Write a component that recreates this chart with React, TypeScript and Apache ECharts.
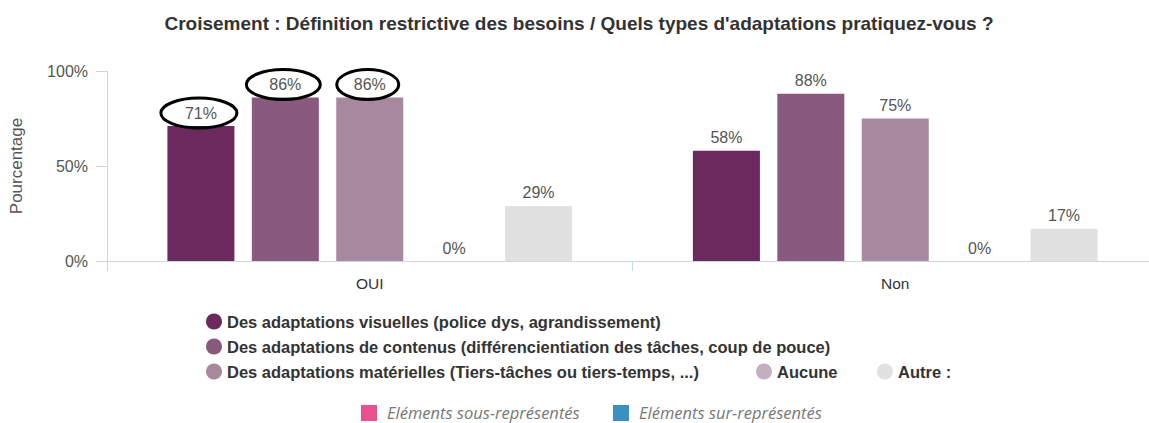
import React, { useEffect, useRef } from 'react';
import * as echarts from 'echarts';

const titleText = "Croisement : Définition restrictive des besoins / Quels types d'adaptations pratiquez-vous ?";
const categories = ['OUI', 'Non'];
const seriesNames = [
  'Des adaptations visuelles (police dys, agrandissement)',
  'Des adaptations de contenus (différencientiation des tâches, coup de pouce)',
  'Des adaptations matérielles (Tiers-tâches ou tiers-temps, ...)',
  'Aucune',
  'Autre :',
];
const visuelles = [71, 58];
const contenus = [86, 88];
const materielles = [86, 75];
const aucune = [0, 0];
const autre = [29, 17];
const seriesValues = [visuelles, contenus, materielles, aucune, autre];
const yAxisName = 'Pourcentage';
const yMin = 0;
const yMax = 100;
const yInterval = 50;
// annotations: [seriesIndex, categoryIndex]
const circled = [[0, 0], [1, 0], [2, 0]];
const footerItems = ['Eléments sous-représentés', 'Eléments sur-représentés'];

const seriesColors = ['#6b295e', '#895a7e', '#a8889e', '#c4afc0', '#e1e1e1'];
const footerColors = ['#e9508e', '#3d8fbf'];
const ellipseRx = [38, 37, 31];
const FONT = '"Liberation Sans", Arial, sans-serif';

export default function App() {
  const ref = useRef<HTMLDivElement>(null);
  useEffect(() => {
    document.body.style.margin = '0';
    document.body.style.overflow = 'hidden';
    if (!ref.current) return;
    const chart = echarts.init(ref.current, null, { renderer: 'svg' });
    const legendWidths: (number | undefined)[] = [undefined, undefined, 521, 92, undefined];
    const option: any = {
      animation: false,
      textStyle: { fontFamily: FONT },
      title: {
        text: titleText,
        left: 'center',
        top: 9,
        textStyle: { fontSize: 19, fontWeight: 'bold', color: '#333', fontFamily: FONT },
      },
      grid: { left: 103, right: 0, top: 71, bottom: 162, containLabel: false },
      legend: {
        left: 201,
        top: 308,
        width: 820,
        orient: 'horizontal',
        icon: 'circle',
        itemWidth: 16,
        itemHeight: 16,
        itemGap: 8,
        textStyle: { fontSize: 16.5, fontWeight: 'bold', color: '#333', fontFamily: FONT, lineHeight: 16 },
        data: seriesNames.map((n, i) =>
          legendWidths[i] ? { name: n, textStyle: { width: legendWidths[i] } } : { name: n }
        ),
      },
      xAxis: {
        type: 'category',
        data: categories,
        axisLine: { show: true, lineStyle: { color: '#ccd6eb', width: 1 } },
        axisTick: { show: true, length: 10, lineStyle: { color: '#ccd6eb' } },
        axisLabel: { margin: 14, fontSize: 15.5, color: '#333', fontFamily: FONT },
      },
      yAxis: {
        type: 'value',
        min: yMin,
        max: yMax,
        interval: yInterval,
        name: yAxisName,
        nameLocation: 'middle',
        nameGap: 82,
        nameRotate: 90,
        nameTextStyle: { fontSize: 17, color: '#555', fontFamily: FONT },
        axisLine: { show: true, lineStyle: { color: '#ccd6eb', width: 1 } },
        axisTick: { show: true, length: 11, lineStyle: { color: '#ccd6eb' } },
        splitLine: { show: false },
        axisLabel: { margin: 19, fontSize: 16, color: '#555', fontFamily: FONT, formatter: '{value}%' },
      },
      series: seriesNames.map((n, i) => ({
        name: n,
        type: 'bar',
        data: seriesValues[i],
        barWidth: 67,
        barGap: '26%',
        itemStyle: { color: seriesColors[i] },
        label: {
          show: true,
          position: 'top',
          distance: 5,
          formatter: '{c}%',
          fontSize: 16,
          color: '#555',
          fontFamily: FONT,
        },
      })),
    };
    chart.setOption(option);

    const graphics: any[] = [];
    try {
      const model: any = (chart as any).getModel();
      circled.forEach(([s, c], k) => {
        const lay = model.getSeriesByIndex(s).getData().getItemLayout(c);
        const cx = lay.x + lay.width / 2;
        const top = Math.min(lay.y, lay.y + lay.height);
        graphics.push({
          type: 'ellipse',
          shape: { cx: cx - 2, cy: top - 13, rx: ellipseRx[k], ry: 15 },
          style: { fill: 'none', stroke: '#000', lineWidth: 3 },
          z: 100,
        });
      });
    } catch (e) {}
    const footerX = [361, 613];
    footerItems.forEach((t, i) => {
      graphics.push({
        type: 'rect',
        shape: { x: footerX[i], y: 405, width: 16, height: 16 },
        style: { fill: footerColors[i] },
      });
      graphics.push({
        type: 'text',
        x: footerX[i] + 26,
        y: 412,
        style: {
          text: t,
          fill: '#777',
          font: 'italic 16.5px "Open Sans", sans-serif',
          textVerticalAlign: 'middle',
          verticalAlign: 'middle',
        },
      });
    });
    chart.setOption({ graphic: graphics });
    return () => chart.dispose();
  }, []);
  return <div ref={ref} style={{ width: 1158, height: 423 }} />;
}
